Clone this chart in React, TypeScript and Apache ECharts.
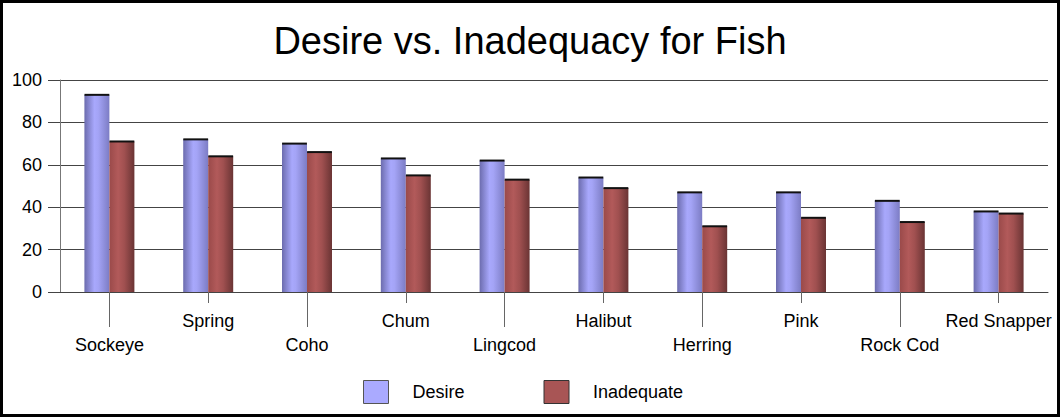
import React, { useEffect, useRef } from "react";
import * as echarts from "echarts";

const categories = ["Sockeye", "Spring", "Coho", "Chum", "Lingcod", "Halibut", "Herring", "Pink", "Rock Cod", "Red Snapper"];
const desire = [93, 72, 70, 63, 62, 54, 47, 47, 43, 38];
const inadequate = [71, 64, 66, 55, 53, 49, 31, 35, 33, 37];
const yTicks = { min: 0, max: 100, interval: 20 };

const FONT = "Liberation Sans, Arial, sans-serif";

export default function App() {
  const ref = useRef<HTMLDivElement>(null);
  useEffect(() => {
    if (!ref.current) return;
    const chart = echarts.init(ref.current, null, { renderer: "svg" });
    const blueGrad = new echarts.graphic.LinearGradient(0, 0, 1, 0, [
      { offset: 0, color: "#6c6cae" },
      { offset: 0.4, color: "#a8a8fc" },
      { offset: 0.55, color: "#a4a4f6" },
      { offset: 1, color: "#7c7cc4" },
    ]);
    const redGrad = new echarts.graphic.LinearGradient(0, 0, 1, 0, [
      { offset: 0, color: "#9a4a4a" },
      { offset: 0.35, color: "#b25a5a" },
      { offset: 0.6, color: "#a05050" },
      { offset: 1, color: "#6a3434" },
    ]);
    const gap = "49.4%";
    const axisColor = "#444";
    chart.setOption({
      animation: false,
      backgroundColor: "#fff",
      title: {
        text: "Desire vs. Inadequacy for Fish",
        left: "center",
        top: 17,
        textStyle: { fontSize: 38, fontWeight: "normal", color: "#000", fontFamily: FONT },
      },
      legend: {
        left: 358,
        top: 375,
        itemWidth: 25,
        itemHeight: 23,
        itemGap: 79,
        textStyle: { fontSize: 18, color: "#000", fontFamily: FONT, padding: [0, 0, 0, 19] },
        data: [
          { name: "Desire", icon: "rect", itemStyle: { color: "#aaaaff", borderColor: "#555", borderWidth: 1 } },
          { name: "Inadequate", icon: "rect", itemStyle: { color: "#a85555", borderColor: "#333", borderWidth: 1 } },
        ],
      },
      grid: { left: 60, right: 12, top: 80, bottom: 125, containLabel: false },
      xAxis: [
        {
          type: "category",
          position: "bottom",
          data: categories,
          axisLine: { show: true, lineStyle: { color: axisColor, width: 1 } },
          axisTick: {
            show: true,
            alignWithLabel: true,
            length: 35,
            interval: (i: number) => i % 2 === 0,
            lineStyle: { color: "#666" },
          },
          axisLabel: {
            interval: (i: number) => i % 2 === 0,
            margin: 44,
            fontSize: 18,
            color: "#000",
            fontFamily: FONT,
          },
          splitLine: { show: false },
        },
        {
          type: "category",
          position: "bottom",
          data: categories,
          axisLine: { show: false },
          axisTick: {
            show: true,
            alignWithLabel: true,
            length: 11,
            interval: (i: number) => i % 2 === 1,
            lineStyle: { color: "#666" },
          },
          axisLabel: {
            interval: (i: number) => i % 2 === 1,
            margin: 20,
            fontSize: 18,
            color: "#000",
            fontFamily: FONT,
          },
          splitLine: { show: false },
        },
      ],
      yAxis: {
        type: "value",
        min: yTicks.min,
        max: yTicks.max,
        interval: yTicks.interval,
        axisLine: { show: true, lineStyle: { color: "#777" } },
        axisTick: { show: true, length: 12, lineStyle: { color: axisColor } },
        axisLabel: { margin: 18, fontSize: 18, color: "#000", fontFamily: FONT },
        splitLine: { show: true, lineStyle: { color: axisColor, width: 1 } },
      },
      series: [
        {
          name: "Desire",
          type: "bar",
          data: desire,
          barGap: "0%",
          barCategoryGap: gap,
          itemStyle: { color: blueGrad },
          z: 2,
        },
        {
          name: "Inadequate",
          type: "bar",
          data: inadequate,
          barGap: "0%",
          barCategoryGap: gap,
          itemStyle: { color: redGrad },
          z: 2,
        },
        {
          name: "DesireTop",
          type: "pictorialBar",
          data: desire,
          barGap: "0%",
          barCategoryGap: gap,
          symbol: "rect",
          symbolSize: ["100%", 2],
          symbolPosition: "end",
          symbolOffset: [0, -1],
          itemStyle: { color: "#111" },
          z: 3,
        },
        {
          name: "InadequateTop",
          type: "pictorialBar",
          data: inadequate,
          barGap: "0%",
          barCategoryGap: gap,
          symbol: "rect",
          symbolSize: ["100%", 2],
          symbolPosition: "end",
          symbolOffset: [0, -1],
          itemStyle: { color: "#111" },
          z: 3,
        },
      ],
      graphic: [
        {
          type: "rect",
          shape: { x: 1.5, y: 1.5, width: 1057, height: 414 },
          style: { fill: "none", stroke: "#000", lineWidth: 3 },
          z: 100,
          silent: true,
        },
      ],
    });
    return () => chart.dispose();
  }, []);
  return (
    <div style={{ position: "absolute", left: 0, top: 0, width: 1060, height: 417 }}>
      <div ref={ref} style={{ width: 1060, height: 417 }} />
    </div>
  );
}
